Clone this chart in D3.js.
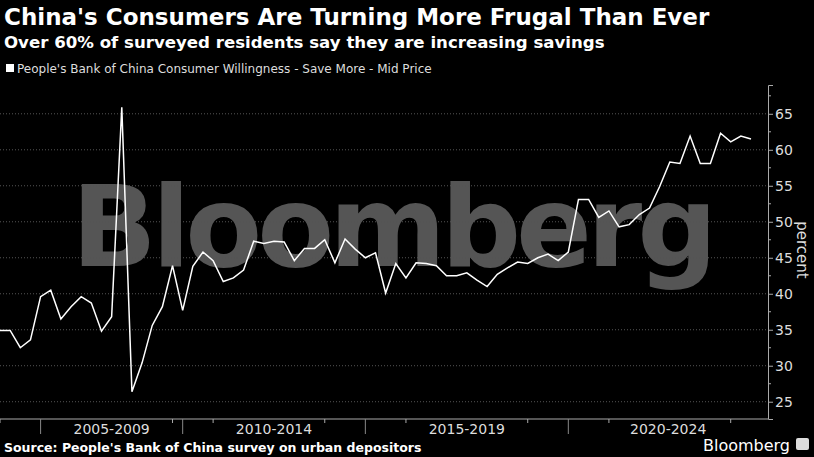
<!DOCTYPE html>
<html>
<head>
<meta charset="utf-8">
<script src="https://cdn.jsdelivr.net/npm/d3@7"></script>
<style>
  body { margin: 0; background: #000; }
  text { font-family: "DejaVu Sans", sans-serif; }
</style>
</head>
<body>
<div id="chart"></div>
<script>
// quarterly survey readings, percent saying "save more"
var values = [34.9, 34.9, 32.5, 33.6, 39.6, 40.5, 36.5, 38.2, 39.6, 38.7, 34.8, 36.8, 65.9, 26.4, 30.4, 35.6,
    38.2, 43.9, 37.7, 43.8, 45.8, 44.6, 41.7, 42.2, 43.3, 47.3, 47.0, 47.3, 47.2, 44.6, 46.3, 46.3, 47.5, 44.3,
    47.6, 46.2, 45.0, 45.7, 40.1, 44.2, 42.2, 44.3, 44.2, 43.9, 42.5, 42.5, 42.9, 41.9, 41.0, 42.7, 43.6, 44.4,
    44.2, 45.0, 45.5, 44.6, 45.8, 53.1, 53.1, 50.6, 51.5, 49.3, 49.6, 51.0, 51.9, 54.9, 58.3, 58.1, 61.9, 58.1,
    58.1, 62.3, 61.1, 61.9, 61.5];
var periodLabels = ["2005-2009", "2010-2014", "2015-2019", "2020-2024"];
var periodBreaks = [4, 18, 36, 56];           // index where each period starts
var minorTicks = [0, 17, 21, 32, 40, 52, 60, 72];
var yTicks = [25, 30, 35, 40, 45, 50, 55, 60, 65];

var width = 814, height = 457;
var plot = {left: 0, right: 768, top: 85, bottom: 419};

var svg = d3.select("#chart").append("svg")
    .attr("width", width)
    .attr("height", height);

var x = d3.scaleLinear().domain([0, values.length - 1]).range([plot.left, 751]);
var y = d3.scaleLinear().domain([22.6, 69]).range([plot.bottom, plot.top]);

// watermark
svg.append("text")
    .attr("x", 392).attr("y", 266)
    .attr("text-anchor", "middle")
    .attr("font-family", "Liberation Sans, Arial, sans-serif")
    .attr("font-weight", "bold")
    .attr("font-size", 112)
    .attr("letter-spacing", -5)
    .attr("fill", "#555")
    .text("Bloomberg");

// gridlines
svg.append("g").selectAll("line")
    .data(yTicks)
    .enter().append("line")
    .attr("x1", plot.left).attr("x2", plot.right)
    .attr("y1", d => y(d)).attr("y2", d => y(d))
    .attr("stroke", "#555")
    .attr("stroke-width", 1)
    .attr("stroke-dasharray", "1,2");

// y axis on right
var yAxis = svg.append("g")
    .attr("transform", "translate(" + plot.right + ",0)")
    .call(d3.axisRight(y).tickValues(yTicks).tickSize(5).tickPadding(2));
yAxis.select(".domain").attr("stroke", "#aaa");
yAxis.selectAll(".tick line").attr("stroke", "#aaa");
yAxis.selectAll("text").attr("fill", "#ddd").attr("font-size", 14)
    .attr("font-family", "Liberation Sans Narrow, DejaVu Sans Condensed, sans-serif");
svg.append("g").selectAll("line")
    .data(yTicks.map(d => d + 2.5).filter(d => d < 69))
    .enter().append("line")
    .attr("x1", plot.right).attr("x2", plot.right + 3)
    .attr("y1", d => y(d)).attr("y2", d => y(d))
    .attr("stroke", "#aaa");

svg.append("text")
    .attr("transform", "translate(797,250) rotate(90)")
    .attr("text-anchor", "middle")
    .attr("fill", "#ddd")
    .attr("font-size", 15)
    .text("percent");

// x axis
svg.append("line")
    .attr("x1", plot.left).attr("x2", plot.right)
    .attr("y1", plot.bottom).attr("y2", plot.bottom)
    .attr("stroke", "#aaa");
svg.append("g").selectAll("line")
    .data(periodBreaks)
    .enter().append("line")
    .attr("x1", d => x(d)).attr("x2", d => x(d))
    .attr("y1", plot.bottom).attr("y2", plot.bottom + 15)
    .attr("stroke", "#888");
svg.append("g").selectAll("line")
    .data(minorTicks)
    .enter().append("line")
    .attr("x1", d => x(d)).attr("x2", d => x(d))
    .attr("y1", plot.bottom).attr("y2", plot.bottom + 4)
    .attr("stroke", "#aaa");
svg.append("g").selectAll("text")
    .data(periodLabels)
    .enter().append("text")
    .attr("x", (d, i) => ((x(periodBreaks[i]) + (i < periodBreaks.length - 1 ? x(periodBreaks[i + 1]) : plot.right)) / 2))
    .attr("y", plot.bottom + 15)
    .attr("text-anchor", "middle")
    .attr("fill", "#ddd")
    .attr("font-size", 14)
    .attr("font-family", "Liberation Sans Narrow, DejaVu Sans Condensed, sans-serif")
    .text(d => d);

// the line
svg.append("path")
    .datum(values)
    .attr("fill", "none")
    .attr("stroke", "#fff")
    .attr("stroke-width", 1.5)
    .attr("d", d3.line().x((d, i) => x(i)).y(d => y(d)));

// titles
svg.append("text").attr("x", 4).attr("y", 25)
    .attr("fill", "#fff").attr("font-weight", "bold").attr("font-size", 23)
    .text("China's Consumers Are Turning More Frugal Than Ever");
svg.append("text").attr("x", 4).attr("y", 48)
    .attr("fill", "#fff").attr("font-weight", "bold").attr("font-size", 16.6)
    .text("Over 60% of surveyed residents say they are increasing savings");
svg.append("rect").attr("x", 6).attr("y", 64).attr("width", 8).attr("height", 8).attr("fill", "#fff");
svg.append("text").attr("x", 17).attr("y", 73)
    .attr("fill", "#ddd").attr("font-size", 12)
    .attr("font-family", "Liberation Sans Narrow, DejaVu Sans Condensed, sans-serif")
    .text("People's Bank of China Consumer Willingness - Save More - Mid Price");

// footer
svg.append("text").attr("x", 4).attr("y", 452)
    .attr("fill", "#fff").attr("font-weight", "bold").attr("font-size", 12.5)
    .text("Source: People's Bank of China survey on urban depositors");
svg.append("text").attr("x", 790).attr("y", 451)
    .attr("text-anchor", "end")
    .attr("fill", "#fff").attr("font-size", 16)
    .attr("font-family", "Liberation Sans, sans-serif")
    .text("Bloomberg");
svg.append("rect").attr("x", 796).attr("y", 438).attr("width", 13).attr("height", 12)
    .attr("fill", "#ddd").attr("rx", 2);
</script>
</body>
</html>
